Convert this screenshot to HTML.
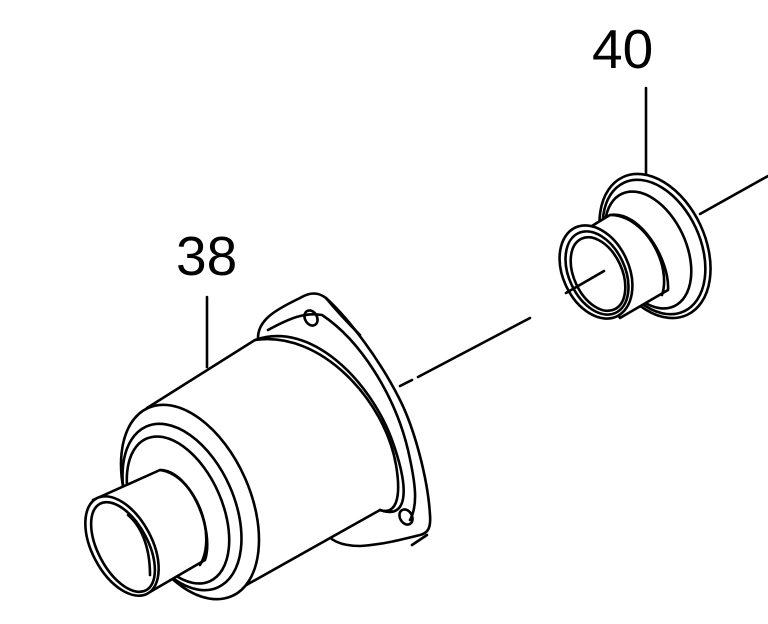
<!DOCTYPE html>
<html><head><meta charset="utf-8"><style>
html,body{margin:0;padding:0;background:#fff;}
svg{display:block}
text{font-family:"Liberation Sans",sans-serif;font-size:55px;fill:#000}
</style></head><body>
<svg width="768" height="624" viewBox="0 0 768 624" xmlns="http://www.w3.org/2000/svg" fill="none" stroke="#000" stroke-width="2.6" stroke-linejoin="round" stroke-linecap="round">
<rect width="768" height="624" fill="#fff" stroke="none"/>
<text x="176" y="275" stroke="none">38</text>
<text x="592" y="68" stroke="none">40</text>
<line x1="207" y1="297" x2="207" y2="367"/>
<line x1="646" y1="88" x2="646" y2="178"/>
<line x1="400" y1="386" x2="412" y2="380"/>
<line x1="418" y1="377" x2="530" y2="318"/>
<line x1="700" y1="214" x2="768" y2="176"/>

<path d="M258,338 C258,320 275,310 300,298 C310,292 318,292 326,298 C350,320 380,360 400,400 C415,430 428,480 430,515 C431,528 428,533 420,535 C400,540 380,545 360,546 C340,546 330,540 322,530" fill="#fff"/>
<path d="M268,330 C290,318 305,312 322,315 C360,340 395,395 408,450 C416,485 418,505 410,520"/>
<path d="M326,298 C340,315 350,325 360,335"/>
<ellipse cx="311" cy="318" rx="6" ry="8" transform="rotate(-30 311 318)"/>
<ellipse cx="406" cy="517" rx="6" ry="8" transform="rotate(-30 406 517)"/>
<line x1="412" y1="545" x2="427" y2="535"/>
<path d="M147,408 L255,340 C310,320 370,380 392,440 C410,490 408,520 380,510 L225,597 Z" fill="#fff"/>
<path d="M255,340 C320,330 385,400 396,465 C402,500 395,515 380,510"/>
<ellipse cx="190" cy="502" rx="60" ry="103" transform="rotate(-24 190 502)" fill="#fff"/>
<ellipse cx="182" cy="507" rx="52" ry="88" transform="rotate(-24 182 507)"/>
<ellipse cx="178" cy="510" rx="44" ry="78" transform="rotate(-24 178 510)"/>
<path d="M93,500 L160,470 C190,470 215,530 205,560 L150,592 Z" fill="#fff"/>
<path d="M160,470 C195,475 218,535 200,565"/>
<ellipse cx="122" cy="546" rx="30" ry="54" transform="rotate(-28 122 546)" fill="#fff"/>
<ellipse cx="123" cy="547" rx="25" ry="49" transform="rotate(-28 123 547)"/>
<path d="M128,515 C140,525 150,545 150,575"/>

<ellipse cx="655" cy="246" rx="50" ry="76" transform="rotate(-25 655 246)" fill="#fff"/>
<ellipse cx="654" cy="247" rx="46" ry="71" transform="rotate(-25 654 247)"/>
<ellipse cx="648" cy="250" rx="38" ry="62" transform="rotate(-25 648 250)"/>
<path d="M572,238 L610,215 C640,210 670,260 668,290 L620,318 Z" fill="#fff"/>
<path d="M610,215 C645,215 672,265 662,295"/>
<ellipse cx="596" cy="272" rx="33" ry="49" transform="rotate(-25 596 272)" fill="#fff"/>
<ellipse cx="597" cy="273" rx="28" ry="44" transform="rotate(-25 597 273)"/>
<ellipse cx="598" cy="274" rx="24" ry="39" transform="rotate(-25 598 274)"/>
<line x1="566" y1="293" x2="604" y2="271"/>
</svg>
</body></html>
